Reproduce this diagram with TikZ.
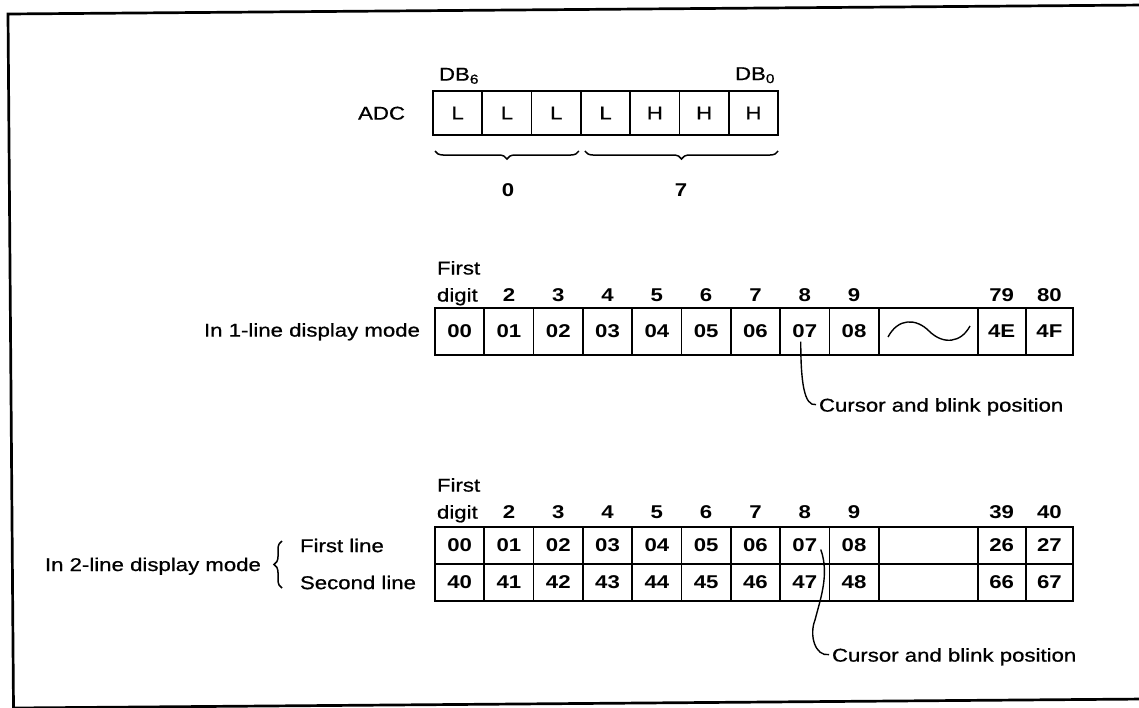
\documentclass[tikz,border=0pt]{standalone}
\usepackage{fontspec}
\setmainfont[FakeStretch=1.2,UprightFeatures={FakeBold=0.8}]{Liberation Sans}
\usetikzlibrary{decorations.pathreplacing}
\begin{document}
\begin{tikzpicture}[x=1pt,y=-1pt,
  every node/.style={inner sep=0pt,outer sep=0pt},
  lbl/.style={font=\fontsize{18.5}{20}\selectfont},
  num/.style={font=\bfseries\fontsize{18.5}{20}\selectfont},
  frameline/.style={line width=2.7pt,line join=miter},
  adccell/.style={draw,line width=1.7pt,minimum width=49.3pt,minimum height=44pt,font=\fontsize{18.5}{20}\selectfont},
  onecell/.style={draw,line width=1.7pt,minimum width=49.3pt,minimum height=47pt,font=\bfseries\fontsize{18.5}{20}\selectfont},
  twocell/.style={draw,line width=1.7pt,minimum width=49.3pt,minimum height=37pt,font=\bfseries\fontsize{18.5}{20}\selectfont},
  brc/.style={decorate,decoration={brace,amplitude=8pt,mirror},line width=1.5pt},
  vbrc/.style={decorate,decoration={brace,amplitude=8pt},line width=1.5pt},
  curve/.style={line width=1.4pt}]
\useasboundingbox (0,0) rectangle (1139,707);
\fill[white] (0,0) rectangle (1139,707);
% frame
\draw[frameline] (1145,5) -- (8,14) -- (13.5,708) -- (1145,699);

% ---------- ADC ----------
\node[lbl,anchor=base east] (adc) at (405,119.6) {ADC};
\foreach \t [count=\i from 0] in {L,L,L,L,H,H,H}
  \node[adccell] (d\i) at ({433+49.3*(\i+0.5)},113) {\t};
\node[lbl,anchor=base west] (db6) at (439,80.6) {DB\textsubscript{6}};
\node[lbl,anchor=base east] (db0) at (775,80) {DB\textsubscript{0}};
\draw[brc] ([shift={(2,16)}]d0.south west) -- ([shift={(-2,16)}]d2.south east);
\draw[brc] ([shift={(4,16)}]d3.south west) -- ([shift={(0,16)}]d6.south east);
\node[num,anchor=base] (z0) at (508,196.6) {0};
\node[num,anchor=base] (z7) at (681,196.6) {7};

% ---------- 1-line display mode ----------
\node[lbl,anchor=base east] (mode1) at (420,336.6) {In 1-line display mode};
\node[lbl,anchor=base west] (first1) at (437,274.5) {First};
\node[lbl,anchor=base west] (digit1) at (437,301.5) {digit};
\foreach \t [count=\i from 0] in {00,01,02,03,04,05,06,07,08}
  \node[onecell] (o\i) at ({435+49.3*(\i+0.5)},331.5) {\t};
\foreach \t [count=\i from 1] in {2,3,4,5,6,7,8,9}
  \node[num,anchor=base] (h\i) at ({435+49.3*(\i+0.5)},301.5) {\t};
\node[onecell,minimum width=99pt] (ow) at (928.2,331.5) {};
\node[onecell,minimum width=48pt] (oE) at (1001.7,331.5) {4E};
\node[onecell,minimum width=47.3pt] (oF) at (1049.35,331.5) {4F};
\node[num,anchor=base] (h79) at (1001.7,301.5) {79};
\node[num,anchor=base] (h80) at (1049.35,301.5) {80};
\draw[curve] (888,337) .. controls (898,318) and (916,318) .. (929,331)
             .. controls (943,345) and (961,343) .. (970,326);
\node[lbl,anchor=base west] (cur1) at (819,411.6) {Cursor and blink position};
\draw[curve] ([shift={(-4,10)}]o7.center) .. controls +(0,40) and +(-12,2) .. ([shift={(-3,-7)}]cur1.base west);

% ---------- 2-line display mode ----------
\node[lbl,anchor=base west] (mode2) at (45,571) {In 2-line display mode};
\draw[vbrc] (282,588) -- (282,541);
\node[lbl,anchor=base west] (fl) at (300,552.1) {First line};
\node[lbl,anchor=base west] (sl) at (300,589.1) {Second line};
\node[lbl,anchor=base west] (first2) at (437,491.6) {First};
\node[lbl,anchor=base west] (digit2) at (437,518.6) {digit};
\foreach \t [count=\i from 0] in {00,01,02,03,04,05,06,07,08}
  \node[twocell] (a\i) at ({435+49.3*(\i+0.5)},545.5) {\t};
\foreach \t [count=\i from 0] in {40,41,42,43,44,45,46,47,48}
  \node[twocell] (b\i) at ({435+49.3*(\i+0.5)},582.5) {\t};
\foreach \t [count=\i from 1] in {2,3,4,5,6,7,8,9}
  \node[num,anchor=base] (k\i) at ({435+49.3*(\i+0.5)},518.6) {\t};
\node[twocell,minimum width=99pt] (ag) at (928.2,545.5) {};
\node[twocell,minimum width=99pt] (bg) at (928.2,582.5) {};
\node[twocell,minimum width=48pt] (a26) at (1001.7,545.5) {26};
\node[twocell,minimum width=47.3pt] (a27) at (1049.35,545.5) {27};
\node[twocell,minimum width=48pt] (b66) at (1001.7,582.5) {66};
\node[twocell,minimum width=47.3pt] (b67) at (1049.35,582.5) {67};
\node[num,anchor=base] (k39) at (1001.7,518.6) {39};
\node[num,anchor=base] (k40) at (1049.35,518.6) {40};
\node[lbl,anchor=base west] (cur2) at (832,661.6) {Cursor and blink position};
\coordinate (bend2) at (815,620);
\draw[curve] ([shift={(16,4)}]a7.center) .. controls +(9,25) and +(5,-20) .. (bend2)
             .. controls +(-6,15) and +(-14,2) .. ([shift={(-3,-7)}]cur2.base west);
\end{tikzpicture}
\end{document}
